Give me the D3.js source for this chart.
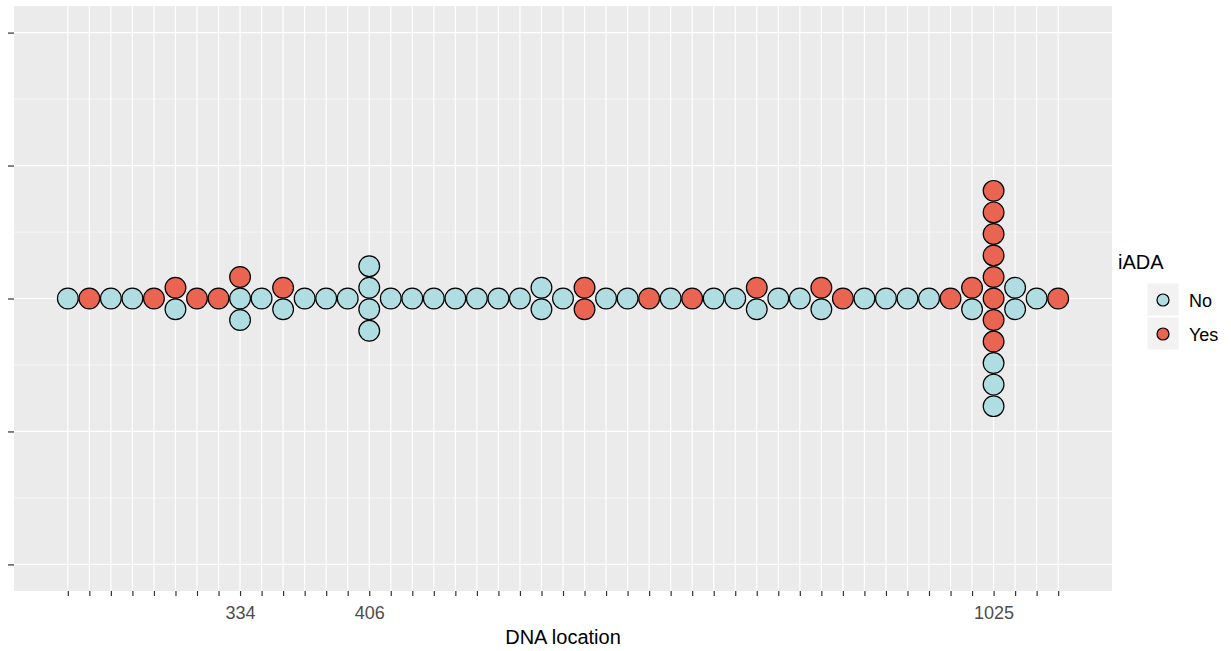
<!DOCTYPE html>
<html>
<head>
<meta charset="utf-8">
<script src="https://cdn.jsdelivr.net/npm/d3@7"></script>
<style>
  body { margin: 0; background: #fff; }
  text { font-family: Arial, "Liberation Sans", sans-serif; }
</style>
</head>
<body>
<script>
// one entry per DNA location (47 positions), only three are labelled on the axis
const tickLabels = ["", "", "", "", "", "", "", "", "334", "", "", "", "", "", "406", "",
    "", "", "", "", "", "", "", "", "", "", "", "", "", "", "", "",
    "", "", "", "", "", "", "", "", "", "", "", "1025", "", "", ""];

// number of "No" / "Yes" dots stacked at each location
const noCounts  = [1, 0, 1, 1, 0, 1, 0, 0, 2, 1, 1, 1, 1, 1, 4, 1,
    1, 1, 1, 1, 1, 1, 2, 1, 0, 1, 1, 0, 1, 0, 1, 1,
    1, 1, 1, 1, 0, 1, 1, 1, 1, 0, 1, 3, 2, 1, 0];
const yesCounts = [0, 1, 0, 0, 1, 1, 1, 1, 1, 0, 1, 0, 0, 0, 0, 0,
    0, 0, 0, 0, 0, 0, 0, 0, 2, 0, 0, 1, 0, 1, 0, 0,
    1, 0, 0, 1, 1, 0, 0, 0, 0, 1, 1, 8, 0, 0, 1];

const groups = ["No", "Yes"];
const yTicks = [-1, -0.5, 0, 0.5, 1];
const yMinor = [-0.75, -0.25, 0.25, 0.75];

const fill = d3.scaleOrdinal().domain(groups).range(["#b0dde1", "#ea6452"]);

const W = 1231, H = 651;
const panel = {left: 14, top: 6, right: 1112, bottom: 591};

const svg = d3.select("body").append("svg")
    .attr("width", W)
    .attr("height", H);

const x = d3.scalePoint()
    .domain(d3.range(tickLabels.length))
    .range([panel.left, panel.right])
    .padding(2.5);

const y = d3.scaleLinear()
    .domain([-1.1, 1.1])
    .range([panel.bottom, panel.top]);

// panel background
svg.append("rect")
    .attr("x", panel.left).attr("y", panel.top)
    .attr("width", panel.right - panel.left)
    .attr("height", panel.bottom - panel.top)
    .attr("fill", "#ebebeb");

// grid
svg.selectAll(".minor")
    .data(yMinor)
    .enter().append("line")
    .attr("x1", panel.left).attr("x2", panel.right)
    .attr("y1", d => y(d)).attr("y2", d => y(d))
    .attr("stroke", "#fff").attr("stroke-width", 0.6);

svg.selectAll(".hmajor")
    .data(yTicks)
    .enter().append("line")
    .attr("x1", panel.left).attr("x2", panel.right)
    .attr("y1", d => y(d)).attr("y2", d => y(d))
    .attr("stroke", "#fff").attr("stroke-width", 1.2);

svg.selectAll(".vmajor")
    .data(x.domain())
    .enter().append("line")
    .attr("x1", d => x(d)).attr("x2", d => x(d))
    .attr("y1", panel.top).attr("y2", panel.bottom)
    .attr("stroke", "#fff").attr("stroke-width", 1.2);

// axes
const xAxis = svg.append("g")
    .attr("transform", "translate(0," + panel.bottom + ")")
    .call(d3.axisBottom(x).tickSize(5).tickPadding(10).tickFormat(i => tickLabels[i]));
xAxis.select(".domain").remove();
xAxis.selectAll(".tick line").attr("stroke", "#333").attr("stroke-width", 1.2);
xAxis.selectAll("text").attr("fill", "#4d4d4d").style("font-size", "18px");

const yAxis = svg.append("g")
    .attr("transform", "translate(" + panel.left + ",0)")
    .call(d3.axisLeft(y).tickValues(yTicks).tickSize(6).tickFormat(""));
yAxis.select(".domain").remove();
yAxis.selectAll(".tick line").attr("stroke", "#333").attr("stroke-width", 1.2);

svg.append("text")
    .attr("x", (panel.left + panel.right) / 2)
    .attr("y", 644)
    .attr("text-anchor", "middle")
    .style("font-size", "20px")
    .attr("fill", "#000")
    .text("DNA location");

// dots: stacked centred on 0, "No" at the bottom of each stack
const dots = [];
tickLabels.forEach((lab, i) => {
    const n = noCounts[i] + yesCounts[i];
    const seq = d3.range(noCounts[i]).map(() => "No")
        .concat(d3.range(yesCounts[i]).map(() => "Yes"));
    seq.forEach((g, j) => dots.push({i: i, group: g, k: j - (n - 1) / 2}));
});

const d = x.step();
svg.selectAll(".dot")
    .data(dots)
    .enter().append("circle")
    .attr("class", "dot")
    .attr("cx", p => x(p.i))
    .attr("cy", p => y(0) - p.k * d)
    .attr("r", d / 2 - 0.4)
    .attr("fill", p => fill(p.group))
    .attr("stroke", "#000")
    .attr("stroke-width", 1.2);

// legend
const legend = svg.append("g").attr("transform", "translate(1118,0)");
legend.append("text")
    .attr("x", 0).attr("y", 269)
    .style("font-size", "20px")
    .text("iADA");

const key = legend.selectAll(".key")
    .data(groups)
    .enter().append("g")
    .attr("transform", (g, i) => "translate(29," + (283 + i * 34) + ")");

key.append("rect")
    .attr("width", 32).attr("height", 33)
    .attr("fill", "#f2f2f2")
    .attr("stroke", "#fff").attr("stroke-width", 1);

key.append("circle")
    .attr("cx", 16).attr("cy", 17)
    .attr("r", 6)
    .attr("fill", g => fill(g))
    .attr("stroke", "#000").attr("stroke-width", 1.2);

key.append("text")
    .attr("x", 42).attr("y", 24)
    .style("font-size", "18px")
    .attr("fill", "#000")
    .text(g => g);
</script>
</body>
</html>
